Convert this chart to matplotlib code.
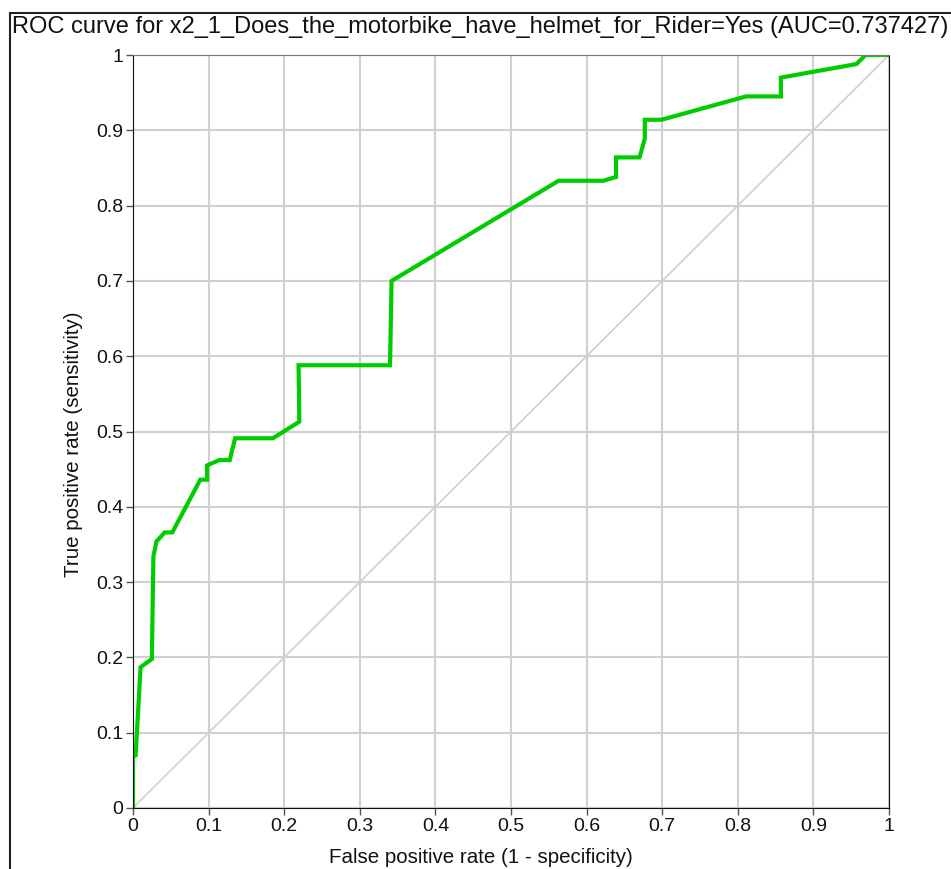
"""ROC curve for the helmet question, redrawn with matplotlib."""

import matplotlib
matplotlib.use("Agg")
import matplotlib.pyplot as plt
import numpy as np
from matplotlib.patches import Rectangle

plt.rcParams["font.family"] = ["Liberation Sans", "DejaVu Sans"]

TITLE = "ROC curve for x2_1_Does_the_motorbike_have_helmet_for_Rider=Yes (AUC=0.737427)"

# ROC points
fpr = [0.0, 0.0, 0.0035, 0.010, 0.025, 0.026, 0.027, 0.031, 0.042, 0.052,
       0.089, 0.098, 0.098, 0.114, 0.128, 0.135, 0.185, 0.220, 0.219, 0.340,
       0.342, 0.563, 0.622, 0.639, 0.639, 0.670, 0.677, 0.677, 0.699, 0.811,
       0.857, 0.857, 0.957, 0.969, 1.0]
tpr = [0.0, 0.068, 0.070, 0.187, 0.198, 0.270, 0.334, 0.354, 0.366, 0.366,
       0.436, 0.436, 0.455, 0.462, 0.462, 0.491, 0.491, 0.513, 0.588, 0.588,
       0.700, 0.833, 0.833, 0.838, 0.864, 0.864, 0.889, 0.914, 0.914, 0.945,
       0.945, 0.970, 0.988, 1.0, 1.0]

ticks = np.round(np.arange(0, 1.01, 0.1), 1)
tick_labels = ["0", "0.1", "0.2", "0.3", "0.4", "0.5", "0.6", "0.7", "0.8", "0.9", "1"]

W, H = 951, 869
fig = plt.figure(figsize=(W / 100, H / 100), dpi=100)
ax = fig.add_axes([133 / W, (H - 808) / H, 756 / W, 753 / H])

ax.grid(True, color="#D0D0D0", lw=1.5)
ax.set_axisbelow(True)
ax.plot([0, 1], [0, 1], color="#CFCFCF", lw=1.2)
ax.plot(fpr, tpr, color="#00CC00", lw=3, solid_joinstyle="miter")

ax.set_xlim(0, 1)
ax.set_ylim(0, 1)
ax.set_xticks(ticks, labels=tick_labels)
ax.set_yticks(ticks, labels=tick_labels)
ax.tick_params(length=5, width=1, color="#555555", labelsize=14, labelcolor="#111111", pad=2)
for side in ["left", "bottom", "right"]:
    ax.spines[side].set_color("#111111")
ax.spines["top"].set_color("#777777")

ax.set_xlabel("False positive rate (1 - specificity)", fontsize=14.8, color="#111111")
ax.set_ylabel("True positive rate (sensitivity)", fontsize=14.8, color="#111111")
ax.xaxis.set_label_coords(0.46, -0.053)
ax.yaxis.set_label_coords(-0.066, 0.483)

fig.text(12 / W, 1 - 27 / H, TITLE, fontsize=17, va="center", ha="left", color="#111111")
fig.patches.append(Rectangle((10 / W, -0.05), 1.1, 1 - 13 / H + 0.05, transform=fig.transFigure,
                             fill=False, ec="#222222", lw=1.5))

fig.savefig("out.png", dpi=100)
